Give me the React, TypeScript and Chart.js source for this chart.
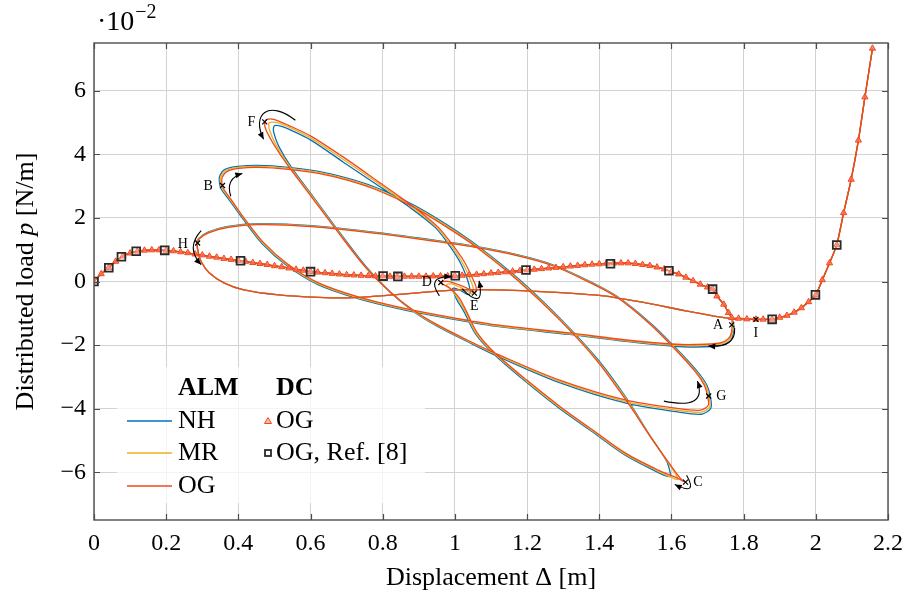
import React, { useEffect, useRef } from "react";
import { Chart, registerables } from "chart.js";
Chart.register(...registerables);

const FONT = "'Liberation Serif', 'Times New Roman', serif";
const C_NH = "#0072BD";
const C_MR = "#EDB120";
const C_OG = "#EE4A1F";

// axis ticks
const xTickValues = [0, 0.2, 0.4, 0.6, 0.8, 1, 1.2, 1.4, 1.6, 1.8, 2, 2.2];
const xTickLabels = ["0", "0.2", "0.4", "0.6", "0.8", "1", "1.2", "1.4", "1.6", "1.8", "2", "2.2"];
const yTickValues = [-6, -4, -2, 0, 2, 4, 6];
const yTickLabels = ["\u22126", "\u22124", "\u22122", "0", "2", "4", "6"];

// DC (displacement control), OG material — rising part up to the snap
const dcRise = [
  [0, 0], [0.02, 0.24], [0.04, 0.43], [0.06, 0.63], [0.08, 0.8], [0.1, 0.89], [0.12, 0.95], [0.14, 0.98],
  [0.16, 0.99], [0.18, 0.99], [0.2, 0.98], [0.22, 0.96], [0.24, 0.93], [0.26, 0.9], [0.28, 0.86], [0.3, 0.83],
  [0.32, 0.79], [0.34, 0.76], [0.36, 0.72], [0.38, 0.69], [0.4, 0.66], [0.42, 0.63], [0.44, 0.59], [0.46, 0.56],
  [0.48, 0.53], [0.5, 0.49], [0.52, 0.46], [0.54, 0.42], [0.56, 0.38], [0.58, 0.35], [0.6, 0.31], [0.62, 0.29],
  [0.64, 0.27], [0.66, 0.25], [0.68, 0.23], [0.7, 0.21], [0.72, 0.2], [0.74, 0.19], [0.76, 0.18], [0.78, 0.17],
  [0.8, 0.17], [0.82, 0.16], [0.84, 0.16], [0.86, 0.16], [0.88, 0.16], [0.9, 0.16], [0.92, 0.16], [0.94, 0.17],
  [0.96, 0.17], [0.98, 0.17], [1.0, 0.18], [1.02, 0.19], [1.04, 0.21], [1.06, 0.22], [1.08, 0.24], [1.1, 0.26],
  [1.12, 0.28], [1.14, 0.3], [1.16, 0.32], [1.18, 0.34], [1.2, 0.36], [1.22, 0.38], [1.24, 0.4], [1.26, 0.42],
  [1.28, 0.44], [1.3, 0.46], [1.32, 0.48], [1.34, 0.5], [1.36, 0.52], [1.38, 0.54], [1.4, 0.55], [1.42, 0.57],
  [1.44, 0.58], [1.46, 0.58], [1.48, 0.58], [1.5, 0.56], [1.52, 0.53], [1.54, 0.5], [1.56, 0.45], [1.58, 0.39],
  [1.6, 0.31], [1.62, 0.23], [1.64, 0.13], [1.66, 0.02], [1.68, -0.09], [1.7, -0.18], [1.714, -0.24],
  [1.726, -0.46], [1.745, -0.72], [1.758, -0.98], [1.767, -1.14],
];
// DC, OG — after the snap
const dcTail = [
  [1.786, -1.16], [1.809, -1.18], [1.834, -1.19], [1.854, -1.19], [1.879, -1.19], [1.9, -1.13], [1.92, -1.07],
  [1.94, -0.97], [1.96, -0.83], [1.98, -0.64], [2.0, -0.42], [2.018, 0.05], [2.038, 0.58], [2.058, 1.15],
  [2.077, 2.16], [2.098, 3.21], [2.118, 4.44], [2.136, 5.8], [2.157, 7.33],
];
// DC, OG, Ref. [8]
const refPoints = [
  [0, 0], [0.041, 0.43], [0.076, 0.78], [0.117, 0.95], [0.196, 0.98], [0.406, 0.65], [0.6, 0.31], [0.801, 0.17],
  [0.842, 0.16], [1.001, 0.18], [1.197, 0.36], [1.431, 0.56], [1.593, 0.34], [1.714, -0.24], [1.879, -1.19],
  [1.999, -0.42], [2.058, 1.15],
];

// ALM loops A -> H
const ogLoop = [
  [1.768, -1.366], [1.766, -1.618], [1.757, -1.808], [1.735, -1.934], [1.667, -1.981], [1.601, -1.965], [1.474, -1.839],
  [1.317, -1.618], [1.117, -1.366], [0.952, -1.05], [0.842, -0.798], [0.732, -0.483], [0.622, -0.041], [0.539, 0.527],
  [0.47, 1.221], [0.415, 2.009], [0.38, 2.577], [0.36, 2.893], [0.355, 3.05],
  [0.355, 3.271], [0.369, 3.461], [0.402, 3.555], [0.457, 3.587], [0.539, 3.524], [0.622, 3.397], [0.704, 3.177],
  [0.787, 2.861], [0.883, 2.356], [0.971, 1.757], [1.062, 1.063], [1.172, 0.054], [1.29, -1.208], [1.392, -2.47],
  [1.474, -3.732], [1.543, -4.899], [1.598, -5.782], [1.625, -6.192], [1.639, -6.318],
  [1.612, -6.161], [1.565, -5.94], [1.474, -5.404], [1.383, -4.678], [1.29, -3.921], [1.199, -3.101], [1.108, -2.218],
  [1.062, -1.618], [1.034, -0.987], [1.012, -0.514], [0.985, -0.199], [0.96, -0.041], [0.979, 0.006], [1.012, -0.104],
  [1.04, -0.246], [1.053, -0.356], [1.059, -0.199], [1.048, 0.117], [1.026, 0.621], [0.993, 1.158], [0.952, 1.725],
  [0.877, 2.42], [0.787, 3.146], [0.696, 3.871], [0.602, 4.565], [0.539, 4.912], [0.498, 5.101], [0.479, 5.101],
  [0.473, 5.016],
  [0.476, 4.786], [0.498, 4.313], [0.539, 3.618], [0.602, 2.672], [0.677, 1.536], [0.751, 0.464], [0.82, -0.322],
  [0.883, -0.89], [0.952, -1.366], [1.034, -1.839], [1.117, -2.281], [1.29, -3.101], [1.474, -3.732], [1.612, -3.984],
  [1.68, -4.047], [1.702, -3.89], [1.7, -3.606],
  [1.691, -3.259], [1.667, -2.849], [1.612, -2.155], [1.543, -1.366], [1.447, -0.482], [1.364, 0.022], [1.271, 0.495],
  [1.172, 0.811], [1.062, 1.063], [0.952, 1.252], [0.787, 1.505], [0.602, 1.726], [0.457, 1.789], [0.369, 1.694],
  [0.319, 1.536], [0.292, 1.347], [0.286, 1.211],
];
const mrLoop = [
  [1.771, -1.382], [1.768, -1.634], [1.76, -1.839], [1.737, -1.972], [1.667, -2.019], [1.601, -1.997], [1.474, -1.864],
  [1.317, -1.644], [1.117, -1.391], [0.952, -1.075], [0.841, -0.823], [0.73, -0.508], [0.62, -0.066], [0.537, 0.511],
  [0.468, 1.205], [0.413, 2.009], [0.377, 2.577], [0.357, 2.893], [0.351, 3.066],
  [0.351, 3.287], [0.366, 3.492], [0.4, 3.587], [0.457, 3.618], [0.539, 3.555], [0.622, 3.429], [0.704, 3.208],
  [0.787, 2.893], [0.884, 2.382], [0.973, 1.782], [1.064, 1.079], [1.174, 0.069], [1.292, -1.202], [1.394, -2.462],
  [1.476, -3.716], [1.541, -4.868], [1.592, -5.719], [1.612, -6.066], [1.617, -6.224],
  [1.597, -6.145], [1.561, -5.956], [1.472, -5.429], [1.382, -4.703], [1.289, -3.946], [1.198, -3.126], [1.107, -2.243],
  [1.059, -1.634], [1.031, -0.987], [1.008, -0.53], [0.99, -0.262], [0.976, -0.12], [0.99, -0.073], [1.015, -0.183],
  [1.035, -0.309], [1.046, -0.388], [1.051, -0.23], [1.041, 0.101], [1.02, 0.606], [0.989, 1.142], [0.949, 1.71],
  [0.875, 2.388], [0.784, 3.114], [0.693, 3.823], [0.602, 4.502], [0.545, 4.833], [0.509, 4.991], [0.488, 5.006],
  [0.484, 4.959],
  [0.487, 4.738], [0.505, 4.281], [0.543, 3.603], [0.605, 2.666], [0.679, 1.536], [0.752, 0.464], [0.821, -0.331],
  [0.883, -0.909], [0.952, -1.391], [1.034, -1.864], [1.117, -2.312], [1.29, -3.139], [1.474, -3.779], [1.612, -4.041],
  [1.682, -4.11], [1.706, -3.937], [1.704, -3.621],
  [1.695, -3.259], [1.669, -2.842], [1.614, -2.148], [1.544, -1.358], [1.448, -0.474], [1.365, 0.035], [1.271, 0.511],
  [1.172, 0.826], [1.062, 1.079], [0.952, 1.268], [0.787, 1.521], [0.602, 1.742], [0.457, 1.805], [0.368, 1.71],
  [0.318, 1.544], [0.29, 1.347], [0.285, 1.211],
];
const nhLoop = [
  [1.773, -1.397], [1.771, -1.65], [1.763, -1.871], [1.738, -2.013], [1.667, -2.06], [1.601, -2.028], [1.474, -1.886],
  [1.317, -1.666], [1.117, -1.413], [0.952, -1.098], [0.84, -0.845], [0.729, -0.53], [0.619, -0.088], [0.535, 0.495],
  [0.466, 1.189], [0.41, 2.009], [0.374, 2.577], [0.353, 2.893], [0.348, 3.082],
  [0.348, 3.303], [0.363, 3.524], [0.399, 3.618], [0.457, 3.65], [0.539, 3.587], [0.622, 3.461], [0.704, 3.24],
  [0.788, 2.924], [0.886, 2.404], [0.975, 1.804], [1.066, 1.095], [1.176, 0.085], [1.294, -1.192], [1.396, -2.454],
  [1.477, -3.7], [1.54, -4.836], [1.587, -5.656], [1.595, -5.94], [1.597, -6.129],
  [1.581, -6.098], [1.557, -5.971], [1.471, -5.451], [1.381, -4.726], [1.287, -3.968], [1.196, -3.148], [1.106, -2.265],
  [1.057, -1.65], [1.027, -0.987], [1.004, -0.546], [0.996, -0.325], [0.993, -0.23], [1.001, -0.215], [1.018, -0.293],
  [1.031, -0.388], [1.04, -0.404], [1.042, -0.262], [1.034, 0.085], [1.015, 0.59], [0.985, 1.126], [0.946, 1.694],
  [0.872, 2.356], [0.781, 3.066], [0.69, 3.76], [0.602, 4.438], [0.55, 4.738], [0.52, 4.88], [0.503, 4.912],
  [0.498, 4.864],
  [0.498, 4.691], [0.512, 4.249], [0.547, 3.587], [0.608, 2.656], [0.681, 1.536], [0.754, 0.464], [0.821, -0.341],
  [0.883, -0.924], [0.952, -1.413], [1.034, -1.886], [1.117, -2.344], [1.29, -3.18], [1.474, -3.826], [1.612, -4.095],
  [1.683, -4.174], [1.709, -3.984], [1.708, -3.637],
  [1.698, -3.259], [1.672, -2.833], [1.616, -2.139], [1.546, -1.35], [1.449, -0.467], [1.366, 0.047], [1.271, 0.527],
  [1.172, 0.842], [1.062, 1.095], [0.952, 1.284], [0.787, 1.536], [0.602, 1.757], [0.457, 1.82], [0.367, 1.726],
  [0.316, 1.552], [0.289, 1.347], [0.285, 1.211],
];
// ALM branch H -> I (all materials)
const hiBranch = [
  [0.289, 0.905], [0.297, 0.621], [0.319, 0.274], [0.36, -0.041], [0.415, -0.262], [0.512, -0.42], [0.622, -0.498],
  [0.704, -0.514], [0.795, -0.451], [0.897, -0.356], [1.007, -0.262], [1.117, -0.262], [1.254, -0.325],
  [1.411, -0.451], [1.529, -0.672], [1.639, -0.924], [1.722, -1.098], [1.777, -1.177],
];

// labelled points
const markNames = ["A", "B", "C", "D", "E", "F", "G", "H", "I"];
const markX = [1.767, 0.356, 1.639, 0.961, 1.054, 0.473, 1.703, 0.287, 1.834];
const markY = [-1.366, 3.02, -6.31, -0.03, -0.366, 5.02, -3.6, 1.21, -1.19];
const labelX = [1.729, 0.316, 1.673, 0.922, 1.054, 0.436, 1.738, 0.246, 1.834];
const labelY = [-1.366, 3.0, -6.31, -0.03, -0.79, 5.02, -3.6, 1.18, -1.628];
// direction arrows (bezier control polygons)
const arrowPaths = [
  [[1.775, -1.461], [1.779, -2.091], [1.702, -2.028]],
  [[0.379, 2.681], [0.363, 3.24], [0.411, 3.397]],
  [[1.642, -6.094], [1.675, -6.76], [1.609, -6.38]],
  [[0.957, -0.451], [0.919, 0.18], [0.99, 0.148]],
  [[1.02, -0.23], [1.084, -0.956], [1.067, 0.022]],
  [[0.558, 5.07], [0.484, 5.732], [0.435, 5.259], [0.47, 4.47]],
  [[1.579, -3.763], [1.7, -4.047], [1.672, -3.132]],
  [[0.297, 1.599], [0.253, 1.054], [0.297, 0.527]],
];

const pts = (arr: number[][]) => arr.map(([x, y]) => ({ x, y }));

function drawText(ctx: CanvasRenderingContext2D, parts: [string, string][], x: number, y: number, align: "left" | "center") {
  let total = 0;
  parts.forEach(([t, f]) => { ctx.font = f; total += ctx.measureText(t).width; });
  let cx = align === "center" ? x - total / 2 : x;
  parts.forEach(([t, f]) => { ctx.font = f; ctx.fillText(t, cx, y); cx += ctx.measureText(t).width; });
}

const overlay = {
  id: "overlay",
  afterDatasetsDraw(chart: any) {
    const { ctx, chartArea: ca, scales } = chart;
    const xs = scales.x, ys = scales.y;
    const P = (p: number[]) => [xs.getPixelForValue(p[0]), ys.getPixelForValue(p[1])];
    ctx.save();
    // frame + inward ticks
    ctx.strokeStyle = "#4d4d4d";
    ctx.lineWidth = 1.4;
    ctx.strokeRect(ca.left, ca.top, ca.right - ca.left, ca.bottom - ca.top);
    ctx.lineWidth = 1.2;
    ctx.beginPath();
    xTickValues.forEach((v) => {
      const px = Math.round(xs.getPixelForValue(v)) + 0.5;
      ctx.moveTo(px, ca.bottom); ctx.lineTo(px, ca.bottom - 6);
      ctx.moveTo(px, ca.top); ctx.lineTo(px, ca.top + 6);
    });
    yTickValues.forEach((v) => {
      const py = Math.round(ys.getPixelForValue(v)) + 0.5;
      ctx.moveTo(ca.left, py); ctx.lineTo(ca.left + 6, py);
      ctx.moveTo(ca.right, py); ctx.lineTo(ca.right - 6, py);
    });
    ctx.stroke();

    // arrows
    ctx.strokeStyle = "#000";
    ctx.fillStyle = "#000";
    ctx.lineWidth = 1.1;
    arrowPaths.forEach((path) => {
      const q = path.map(P);
      ctx.beginPath();
      ctx.moveTo(q[0][0], q[0][1]);
      if (q.length === 3) ctx.quadraticCurveTo(q[1][0], q[1][1], q[2][0], q[2][1]);
      else ctx.bezierCurveTo(q[1][0], q[1][1], q[2][0], q[2][1], q[3][0], q[3][1]);
      ctx.stroke();
      const e = q[q.length - 1], c = q[q.length - 2];
      const a = Math.atan2(e[1] - c[1], e[0] - c[0]);
      const L = 7, W = 3;
      const bx = e[0] - L * Math.cos(a), by = e[1] - L * Math.sin(a);
      ctx.beginPath();
      ctx.moveTo(e[0], e[1]);
      ctx.lineTo(bx + W * Math.sin(a), by - W * Math.cos(a));
      ctx.lineTo(bx - W * Math.sin(a), by + W * Math.cos(a));
      ctx.closePath();
      ctx.fill();
    });
    // cross markers and letters
    ctx.lineWidth = 1.2;
    markNames.forEach((n, i) => {
      const [mx, my] = P([markX[i], markY[i]]);
      ctx.beginPath();
      ctx.moveTo(mx - 2.5, my - 2.5); ctx.lineTo(mx + 2.5, my + 2.5);
      ctx.moveTo(mx - 2.5, my + 2.5); ctx.lineTo(mx + 2.5, my - 2.5);
      ctx.stroke();
      const [lx, ly] = P([labelX[i], labelY[i]]);
      ctx.font = `14px ${FONT}`;
      ctx.textAlign = "center";
      ctx.textBaseline = "middle";
      ctx.fillText(n, lx, ly);
    });

    // legend
    ctx.fillStyle = "rgba(255,255,255,0.75)";
    ctx.fillRect(117, 367, 308, 136);
    ctx.fillStyle = "#000";
    ctx.textAlign = "left";
    ctx.textBaseline = "middle";
    const LF = `26px ${FONT}`;
    const LB = `bold 26px ${FONT}`;
    ctx.font = LB;
    ctx.fillText("ALM", 178, 388);
    ctx.fillText("DC", 276, 388);
    ctx.font = LF;
    const rows = [[C_NH, "NH", 421], [C_MR, "MR", 453], [C_OG, "OG", 486]] as [string, string, number][];
    rows.forEach(([col, t, yy]) => {
      ctx.strokeStyle = col;
      ctx.lineWidth = 1.4;
      ctx.beginPath(); ctx.moveTo(127, yy); ctx.lineTo(172, yy); ctx.stroke();
      ctx.fillStyle = "#000";
      ctx.fillText(t, 178, yy);
    });
    // triangle marker
    ctx.beginPath();
    ctx.moveTo(268, 417.5); ctx.lineTo(271.5, 423.5); ctx.lineTo(264.5, 423.5); ctx.closePath();
    ctx.fillStyle = "rgba(255,140,110,0.6)"; ctx.fill();
    ctx.strokeStyle = C_OG; ctx.lineWidth = 1; ctx.stroke();
    ctx.fillStyle = "#000";
    ctx.fillText("OG", 276, 421);
    ctx.strokeStyle = "#2a2a2a"; ctx.lineWidth = 1.8;
    ctx.strokeRect(265, 450, 6, 6);
    ctx.fillText("OG, Ref. [8]", 276, 453);

    // axis titles
    ctx.fillStyle = "#000";
    ctx.textBaseline = "middle";
    drawText(ctx, [["Displacement \u0394 [m]", `26px ${FONT}`]], (ca.left + ca.right) / 2, 578, "center");
    ctx.save();
    ctx.translate(26, (ca.top + ca.bottom) / 2);
    ctx.rotate(-Math.PI / 2);
    drawText(ctx, [["Distributed load ", `26px ${FONT}`], ["p", `italic 26px ${FONT}`], [" [N/m]", `26px ${FONT}`]], 0, 0, "center");
    ctx.restore();
    // multiplier
    ctx.textBaseline = "alphabetic";
    ctx.textAlign = "left";
    ctx.font = `28px ${FONT}`;
    ctx.fillText("\u00B710", 97, 30);
    const w = ctx.measureText("\u00B710").width;
    ctx.font = `20px ${FONT}`;
    ctx.fillText("\u22122", 97 + w + 1, 18);
    ctx.restore();
  },
};

export default function App() {
  const ref = useRef<HTMLCanvasElement>(null);
  useEffect(() => {
    document.body.style.margin = "0";
    const ctx = ref.current!.getContext("2d")!;
    const tickFont = { family: FONT, size: 24 };
    const chart = new Chart(ctx, {
      type: "line",
      data: {
        datasets: [
          {
            label: "OG, Ref. [8]",
            data: pts(refPoints),
            showLine: false,
            pointStyle: "rect",
            pointRadius: 5.5,
            borderColor: "#2a2a2a",
            borderWidth: 1.8,
            backgroundColor: "rgba(255,255,255,0.25)",
            order: 0,
          },
          {
            label: "DC OG",
            data: pts([...dcRise, ...dcTail]),
            borderColor: C_OG,
            borderWidth: 1.2,
            pointStyle: "triangle",
            pointRadius: 3.6,
            pointBorderWidth: 1,
            pointBorderColor: C_OG,
            pointBackgroundColor: "rgba(255,110,80,0.8)",
            tension: 0,
            order: 1,
          },
          {
            label: "ALM OG",
            data: pts([...dcRise, ...ogLoop, ...hiBranch, ...dcTail]),
            borderColor: C_OG,
            borderWidth: 1.3,
            pointRadius: 0,
            tension: 0.3,
            order: 2,
          },
          {
            label: "ALM MR",
            data: pts([...dcRise, ...mrLoop, ...hiBranch, ...dcTail]),
            borderColor: C_MR,
            borderWidth: 1.3,
            pointRadius: 0,
            tension: 0.3,
            order: 3,
          },
          {
            label: "ALM NH",
            data: pts([...dcRise, ...nhLoop, ...hiBranch, ...dcTail]),
            borderColor: C_NH,
            borderWidth: 1.3,
            pointRadius: 0,
            tension: 0.3,
            order: 4,
          },
        ],
      },
      options: {
        animation: false,
        responsive: false,
        devicePixelRatio: 1,
        layout: { padding: { top: 43, right: 18, left: 0, bottom: 0 } },
        plugins: { legend: { display: false }, tooltip: { enabled: false } },
        scales: {
          x: {
            type: "linear",
            min: 0,
            max: 2.2,
            afterBuildTicks: (a: any) => { a.ticks = xTickValues.map((value) => ({ value })); },
            afterFit: (s: any) => { s.height = 76; },
            grid: { color: "#d2d2d2", lineWidth: 1, drawTicks: false },
            border: { display: false },
            ticks: {
              font: tickFont,
              color: "#000",
              padding: 9,
              maxRotation: 0,
              autoSkip: false,
              callback: (_v: any, i: number) => xTickLabels[i],
            },
          },
          y: {
            type: "linear",
            min: -7.5,
            max: 7.5,
            afterBuildTicks: (a: any) => { a.ticks = yTickValues.map((value) => ({ value })); },
            afterFit: (s: any) => { s.width = 94; },
            grid: { color: "#d2d2d2", lineWidth: 1, drawTicks: false },
            border: { display: false },
            ticks: {
              font: tickFont,
              color: "#000",
              padding: 8,
              autoSkip: false,
              callback: (_v: any, i: number) => yTickLabels[i],
            },
          },
        },
      },
      plugins: [overlay],
    } as any);
    return () => chart.destroy();
  }, []);
  return (
    <div style={{ width: 912, height: 596 }}>
      <canvas ref={ref} width={912} height={596} style={{ display: "block" }} />
    </div>
  );
}
